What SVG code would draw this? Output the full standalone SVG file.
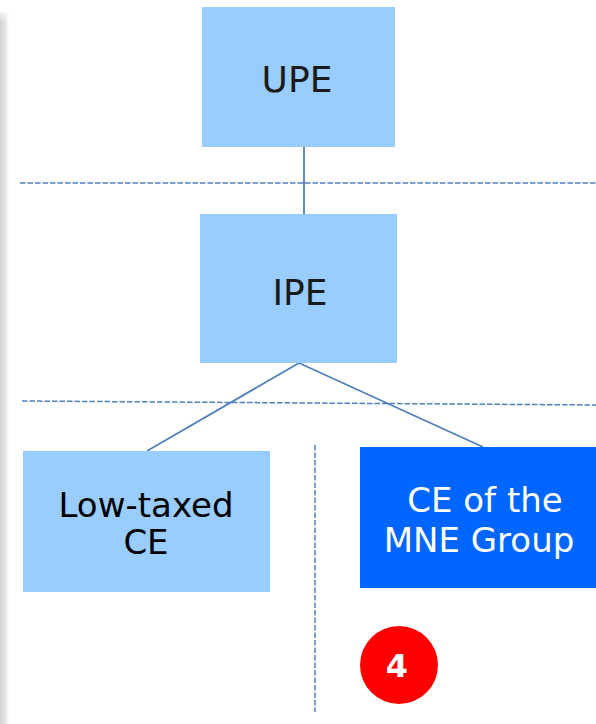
<svg xmlns="http://www.w3.org/2000/svg" width="596" height="724" viewBox="0 0 596 724">
<defs>
<linearGradient id="sh" x1="0" y1="0" x2="1" y2="0">
<stop offset="0" stop-color="#d2d2d2"/>
<stop offset="0.6" stop-color="#e4e4e4"/>
<stop offset="1" stop-color="#ffffff"/>
</linearGradient>
<linearGradient id="shTop" x1="0" y1="0" x2="0" y2="1">
<stop offset="0" stop-color="#ffffff" stop-opacity="1"/>
<stop offset="1" stop-color="#ffffff" stop-opacity="0"/>
</linearGradient>
<style>
.box{fill:#99ccff}
.dark{fill:#0066ff}
.t{font-family:"DejaVu Sans",Verdana,sans-serif;font-size:36px;text-anchor:middle;fill:#1a1a1a}
.tw{font-family:"DejaVu Sans",Verdana,sans-serif;font-size:34px;text-anchor:middle;fill:#ffffff}
.tl{font-family:"DejaVu Sans",Verdana,sans-serif;font-size:34px;text-anchor:middle;fill:#000000}
.dash{stroke:#4f81bd;stroke-width:1.5;stroke-dasharray:5.5 2;fill:none}
.conn{stroke:#4f81bd;stroke-width:1.8;fill:none}
</style>
</defs>
<rect width="596" height="724" fill="#ffffff"/>
<rect x="0" y="12" width="9" height="712" fill="url(#sh)"/>
<rect x="0" y="8" width="10" height="14" fill="url(#shTop)"/>
<g id="separators">
<line class="dash" x1="20" y1="183" x2="596" y2="183"/>
<line class="dash" x1="22" y1="401" x2="596" y2="405"/>
<line class="dash" x1="315" y1="445" x2="315" y2="712"/>
</g>
<g id="connectors">
<line class="conn" x1="304" y1="147" x2="304" y2="214"/>
<line class="conn" x1="299" y1="363" x2="147" y2="451"/>
<line class="conn" x1="299" y1="363" x2="483" y2="447"/>
</g>
<g id="upe">
<rect class="box" x="202" y="7" width="193" height="140"/>
<text class="t" x="297" y="92">UPE</text>
</g>
<g id="ipe">
<rect class="box" x="200" y="214" width="197" height="149"/>
<text class="t" x="300" y="305">IPE</text>
</g>
<g id="lowtaxed">
<rect class="box" x="23" y="451" width="247" height="141"/>
<text class="tl" x="146" y="517">Low-taxed</text>
<text class="tl" x="146" y="554">CE</text>
</g>
<g id="ce-mne">
<rect class="dark" x="360" y="447" width="236" height="141"/>
<text class="tw" x="485" y="512">CE of the</text>
<text class="tw" x="479" y="552">MNE Group</text>
</g>
<g id="badge">
<circle cx="399" cy="665" r="39" fill="#ff0000"/>
<text x="397" y="677" font-family="DejaVu Sans,Verdana,sans-serif" font-size="32" font-weight="bold" fill="#ffffff" text-anchor="middle">4</text>
</g>
</svg>
